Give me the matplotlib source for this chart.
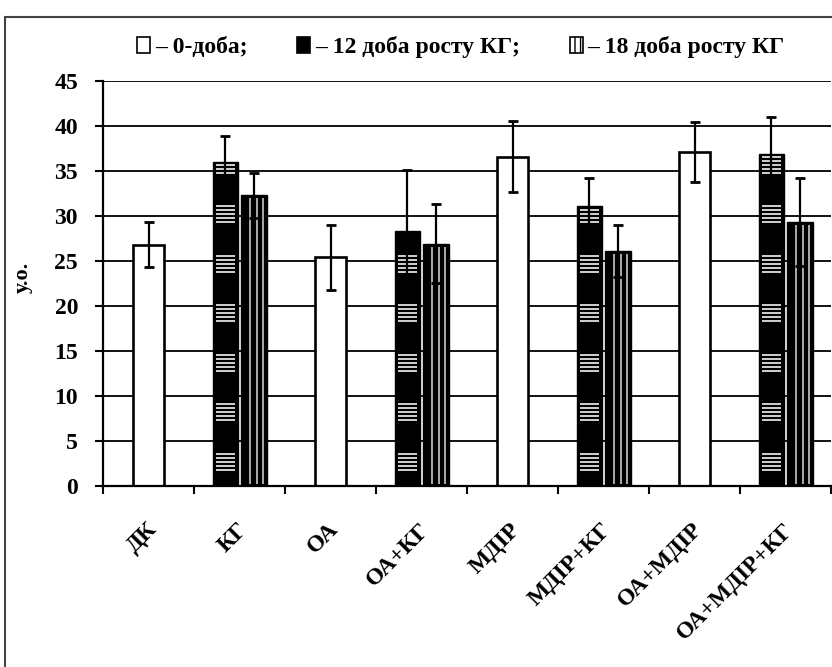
import matplotlib
matplotlib.use("Agg")
import matplotlib.pyplot as plt
from matplotlib.patches import Patch, Rectangle
from matplotlib.transforms import ScaledTranslation
import numpy as np

categories = ["ДК", "КГ", "ОА", "ОА+КГ", "МДІР", "МДІР+КГ", "ОА+МДІР", "ОА+МДІР+КГ"]
# 0-доба (white bars), only for groups without KG
day0_idx = [0, 2, 4, 6]
day0_vals = [26.8, 25.4, 36.6, 37.1]
day0_err = [2.5, 3.6, 3.9, 3.3]
# 12 доба росту КГ (black bars)
day12_idx = [1, 3, 5, 7]
day12_vals = [36.0, 28.3, 31.1, 36.9]
day12_err = [2.9, 6.8, 3.1, 4.1]
# 18 доба росту КГ (vertical-striped bars)
day18_idx = [1, 3, 5, 7]
day18_vals = [32.3, 26.9, 26.1, 29.3]
day18_err = [2.5, 4.4, 2.9, 4.9]

legend_labels = ["– 0-доба;", "– 12 доба росту КГ;", "– 18 доба росту КГ"]
yticks = [0, 5, 10, 15, 20, 25, 30, 35, 40, 45]
ylabel = "у.о."

SERIF = ["Liberation Serif", "DejaVu Serif"]
plt.rcParams["font.family"] = SERIF

W, H = 832, 667
fig = plt.figure(figsize=(W / 100, H / 100), dpi=100)
ax = fig.add_axes([103 / W, 1 - 486 / H, 728 / W, 405 / H])

ax.set_xlim(-0.5, 7.5)
ax.set_ylim(0, 45)

for y in yticks:
    ax.axhline(y, color="#111111", lw=1.4, zorder=0)

# white bars
wx = np.array(day0_idx, dtype=float)
ax.bar(wx, day0_vals, width=0.34, color="white", edgecolor="black", lw=1.9, zorder=2)

# black bars
bx = np.array(day12_idx, dtype=float) - 0.155
bw = 0.27
ax.bar(bx, day12_vals, width=bw, color="black", edgecolor="black", lw=1.0, zorder=2)
# horizontal white stripe groups inside black bars
for x0, h in zip(bx, day12_vals):
    base = 1.8
    while base < h:
        for j in range(5):
            yy = base + j * 0.45
            if yy < h - 0.25:
                ax.hlines(yy, x0 - bw / 2 + 0.03, x0 + bw / 2 - 0.03,
                          color="#e0e0e0", lw=1.3, zorder=3)
        base += 5.5

# striped bars
sx = np.array(day18_idx, dtype=float) + 0.16
sw = 0.29
ax.bar(sx, day18_vals, width=sw, color="black", edgecolor="black", lw=1.0, zorder=2)
for x0, h in zip(sx, day18_vals):
    for f in [0.35, 0.6, 0.82]:
        xx = x0 - sw / 2 + f * sw
        ax.vlines(xx, 0.2, h - 0.3, color="#c8c8c8", lw=1.2, zorder=3)

# error bars
ekw = dict(fmt="none", ecolor="black", elinewidth=1.6, capsize=3.5, capthick=2.0, zorder=5)
ax.errorbar(wx, day0_vals, yerr=day0_err, **ekw)
ax.errorbar(bx, day12_vals, yerr=day12_err, **ekw)
ax.errorbar(sx, day18_vals, yerr=day18_err, **ekw)

# axes styling
for s in ["top", "right"]:
    ax.spines[s].set_visible(False)
for s in ["left", "bottom"]:
    ax.spines[s].set_linewidth(1.6)
    ax.spines[s].set_zorder(6)

ax.set_yticks(yticks)
ax.set_yticklabels([str(v) for v in yticks], fontsize=17, fontweight="bold")
ax.tick_params(axis="y", direction="out", length=6, width=1.5, pad=12)

ax.set_xticks(np.arange(len(categories)))
ax.set_xticklabels(categories, rotation=45, ha="right", va="center",
                   rotation_mode="anchor", fontsize=17, fontweight="bold")
ax.tick_params(axis="x", which="major", length=0, pad=29)
shift = ScaledTranslation(5 / 100, 0, fig.dpi_scale_trans)
for lbl in ax.get_xticklabels():
    lbl.set_transform(lbl.get_transform() + shift)
ax.set_xticks(np.arange(-0.5, len(categories) + 0.5, 1.0), minor=True)
ax.tick_params(axis="x", which="minor", direction="out", length=6, width=1.5)

fig.text(23 / W, 1 - 277 / H, ylabel, rotation=90, ha="center", va="center",
         fontsize=16, fontweight="bold")

# legend
handles = [Patch(facecolor="white", edgecolor="black", lw=1.2),
           Patch(facecolor="black", edgecolor="black", lw=1.2),
           Patch(facecolor="white", edgecolor="black", hatch="|||", lw=1.2)]
fig.legend(handles, legend_labels, loc="center", bbox_to_anchor=(461 / W, 1 - 47 / H),
           ncol=3, frameon=False, prop={"size": 17, "weight": "bold"},
           handlelength=0.55, handleheight=0.65,
           handletextpad=0.2, columnspacing=2.1)

# outer frame (cropped at right/bottom)
fig.patches.append(Rectangle((5 / W, -0.1), 1.2, 1.1 - 17 / H,
                             transform=fig.transFigure, fill=False,
                             edgecolor="#444444", lw=1.5))

fig.savefig("out.png", dpi=100)
